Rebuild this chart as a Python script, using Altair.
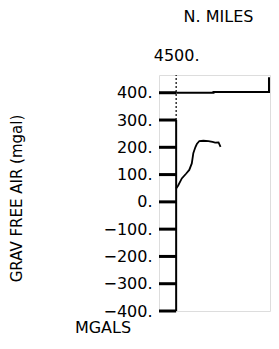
import altair as alt
import pandas as pd

# Gravity free-air profile (N. miles vs mgal)
curve_miles = [4500, 4502, 4505.6, 4510, 4513, 4515.5, 4517, 4519, 4520.5, 4523, 4527, 4532, 4536, 4538.6, 4542, 4544]
curve_mgal = [49, 60, 86, 104, 117, 141, 178, 200, 212, 223, 224, 223, 220, 217, 218, 202]

# Second trace (clipped near top)
trace_miles = [4500, 4537, 4537, 4592, 4592]
trace_mgal = [400, 400, 403, 403, 457]

y_ticks = [-400, -300, -200, -100, 0, 100, 200, 300, 400]
x_ticks = [4500]

x_origin = 4500
tick_start = 4483
x_domain = [4483, 4593]
y_domain = [-400, 465]

curve_df = pd.DataFrame({"miles": curve_miles, "mgal": curve_mgal, "order": list(range(len(curve_miles)))})
trace_df = pd.DataFrame({"miles": trace_miles, "mgal": trace_mgal, "order": list(range(len(trace_miles)))})
axis_solid = pd.DataFrame({"miles": [x_origin], "mgal": [-400], "hi": [300]})
axis_dotted = pd.DataFrame({"miles": [x_origin], "mgal": [300], "hi": [465]})
tick_df = pd.DataFrame({"mgal": y_ticks, "miles": [tick_start] * len(y_ticks), "end": [x_origin] * len(y_ticks)})
note_df = pd.DataFrame({"t": ["MGALS"]})

FONT = "DejaVu Sans"
INK = "black"

xscale = alt.Scale(domain=x_domain, nice=False, zero=False)
yscale = alt.Scale(domain=y_domain, nice=False, zero=False)

x_axis = alt.Axis(
    orient="top", values=x_ticks, format="d", labelExpr="datum.label + '.'",
    domain=False, ticks=False, grid=False, labelPadding=12, labelFlush=False,
    labelAlign="center", labelFont=FONT, labelFontSize=16, labelColor=INK,
    title="N. MILES", titleFont=FONT, titleFontSize=16, titleFontWeight="normal",
    titleColor=INK, titleX=59, titleY=-59, titleAlign="center", titleBaseline="middle",
)
y_axis = alt.Axis(
    orient="left", values=y_ticks, format="d", labelExpr="datum.label + '.'",
    domain=False, ticks=False, grid=False,
    labelPadding=7, labelFont=FONT, labelFontSize=16, labelColor=INK, labelOverlap=False,
    labelBound=False, labelFlush=False,
    title="GRAV FREE AIR (mgal)", titleFont=FONT, titleFontSize=15, titleFontWeight="normal",
    titleColor=INK, titleX=-143, titleY=123, titleAlign="center", titleBaseline="middle",
    titleAngle=-90,
)

X = alt.X("miles:Q", scale=xscale, axis=x_axis)
Y = alt.Y("mgal:Q", scale=yscale, axis=y_axis)

curve = alt.Chart(curve_df).mark_line(color=INK, strokeWidth=1.8).encode(
    x=X, y=Y, order="order:Q",
)
trace = alt.Chart(trace_df).mark_line(color=INK, strokeWidth=2).encode(
    x=X, y=Y, order="order:Q",
)
rule_solid = alt.Chart(axis_solid).mark_rule(color=INK, strokeWidth=2).encode(
    x=X, y=Y, y2="hi:Q",
)
rule_dotted = alt.Chart(axis_dotted).mark_rule(color=INK, strokeWidth=1.2, strokeDash=[2, 2]).encode(
    x=X, y=Y, y2="hi:Q",
)
ticks = alt.Chart(tick_df).mark_rule(color=INK, strokeWidth=3).encode(
    x=X, x2="end:Q", y=Y,
)
note = alt.Chart(note_df).mark_text(font=FONT, fontSize=16, color=INK, align="center", baseline="middle").encode(
    text="t:N",
    x=alt.value(-56),
    y=alt.value(253),
)

chart = alt.layer(rule_solid, rule_dotted, ticks, trace, curve, note).properties(
    width=111, height=236,
    padding={"left": 151, "top": 67, "right": 1, "bottom": 30},
    autosize=alt.AutoSizeParams(type="none"),
).configure_view(strokeWidth=0).configure(background="white")

chart.save("out.html", embed_options={"renderer": "svg", "actions": False})
